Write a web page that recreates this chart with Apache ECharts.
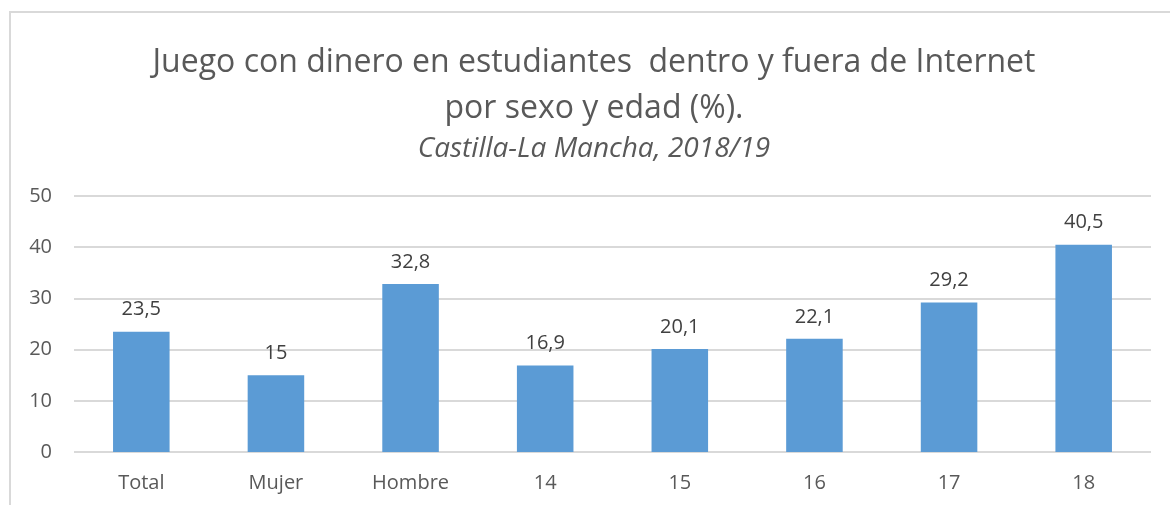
<!DOCTYPE html>
<html>
<head>
<meta charset="utf-8">
<script src="https://cdn.jsdelivr.net/npm/echarts@6/dist/echarts.min.js"></script>
<style>
  html, body { margin: 0; padding: 0; background: #fff; }
  #frame {
    position: absolute; left: 9px; top: 11px; width: 1200px; height: 600px;
    border: 2px solid #d9d9d9; box-sizing: border-box;
  }
  #chart { position: absolute; left: 0; top: 0; width: 1170px; height: 505px; }
</style>
</head>
<body>
<div id="frame"></div>
<div id="chart"></div>
<script>
  var categories = ["Total", "Mujer", "Hombre", "14", "15", "16", "17", "18"];
  var values = [23.5, 15, 32.8, 16.9, 20.1, 22.1, 29.2, 40.5];
  var yTicks = [0, 10, 20, 30, 40, 50];

  var font = "'Open Sans', 'Noto Sans', sans-serif";
  var chart = echarts.init(document.getElementById("chart"));

  function titleLine(text, top, size, italic) {
    return {
      text: text,
      left: 589,
      textAlign: "center",
      top: top,
      textStyle: {
        fontFamily: font,
        fontSize: size,
        fontWeight: "normal",
        fontStyle: italic ? "italic" : "normal",
        color: "#595959"
      }
    };
  }

  chart.setOption({
    animation: false,
    title: [
      titleLine("Juego con dinero en estudiantes  dentro y fuera de Internet", 42, 32),
      titleLine("por sexo y edad (%).", 88, 32),
      titleLine("Castilla-La Mancha, 2018/19", 130, 28, true)
    ],
    grid: { left: 74, right: 19, top: 196, bottom: 53 },
    xAxis: {
      type: "category",
      data: categories,
      axisLine: { show: false },
      axisTick: { show: false },
      axisLabel: { fontFamily: font, fontSize: 20, color: "#595959", margin: 21 }
    },
    yAxis: {
      type: "value",
      min: yTicks[0],
      max: yTicks[yTicks.length - 1],
      interval: 10,
      axisLine: { show: false },
      axisTick: { show: false },
      splitLine: { lineStyle: { color: "#d9d9d9", width: 2 } },
      axisLabel: { fontFamily: font, fontSize: 20, color: "#595959", margin: 22 }
    },
    series: [{
      type: "bar",
      data: values,
      barWidth: "42%",
      itemStyle: { color: "#5b9bd5" },
      label: {
        show: true,
        position: "top",
        distance: 12,
        fontFamily: font,
        fontSize: 20,
        color: "#404040",
        formatter: function (p) { return String(p.value).replace(".", ","); }
      }
    }]
  });
</script>
</body>
</html>
